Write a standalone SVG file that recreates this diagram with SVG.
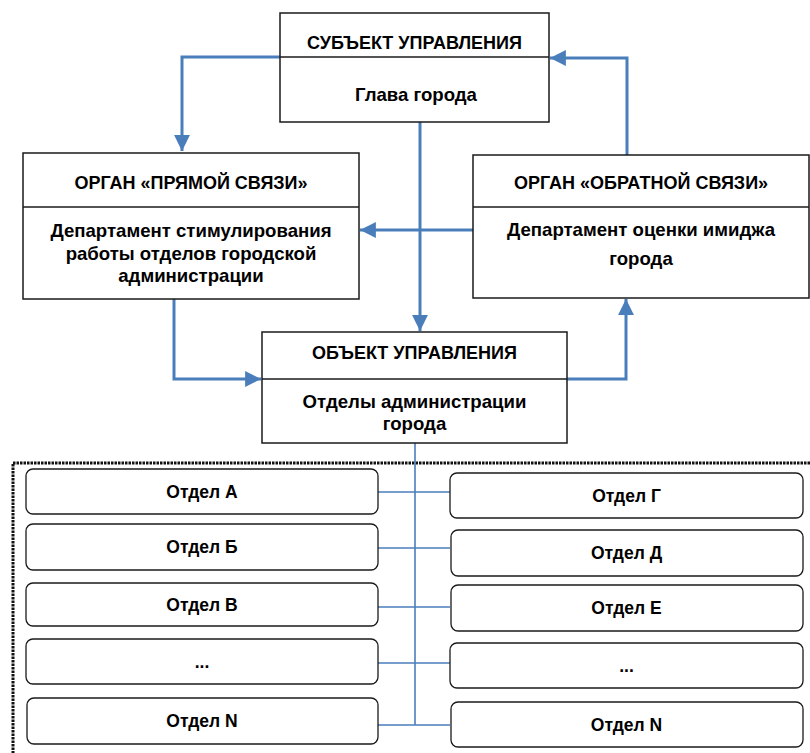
<svg xmlns="http://www.w3.org/2000/svg" width="810" height="753" viewBox="0 0 810 753">
<style>
.box{fill:#fff;stroke:#1a1a1a;stroke-width:1.5}
.sbox{fill:#fff;stroke:#1a1a1a;stroke-width:1.3}
.div{stroke:#1a1a1a;stroke-width:1.5}
.t{font-family:"Liberation Sans",Arial,sans-serif;font-weight:bold;font-size:18px;fill:#000;text-anchor:middle}
.b{font-family:"Liberation Sans",Arial,sans-serif;font-weight:bold;font-size:18.6px;fill:#000;text-anchor:middle}
.s{font-family:"Liberation Sans",Arial,sans-serif;font-weight:bold;font-size:17.5px;fill:#000;text-anchor:middle}
.c{fill:none;stroke:#4a7ebb;stroke-width:3}
.thin{fill:none;stroke:#4a7ebb;stroke-width:1.6}
</style>
<defs>
<marker id="ah" viewBox="0 0 10 10" refX="10" refY="5" markerWidth="5.3" markerHeight="5.3" markerUnits="strokeWidth" orient="auto">
<path d="M0,0 L10,5 L0,10 z" fill="#4a7ebb"/>
</marker>
</defs>
<rect x="13" y="463" width="810" height="310" fill="none" stroke="#111" stroke-width="3" stroke-dasharray="2.5,1"/>
<g id="connectors">
<path class="c" d="M280,57 H182 V151" marker-end="url(#ah)"/>
<path class="c" d="M627,155 V58 H550" marker-end="url(#ah)"/>
<path class="c" d="M420,122 V331" marker-end="url(#ah)"/>
<path class="c" d="M473,230 H360" marker-end="url(#ah)"/>
<path class="c" d="M174,299 V379 H261" marker-end="url(#ah)"/>
<path class="c" d="M567,379 H626 V299" marker-end="url(#ah)"/>
<path class="thin" d="M415,443 V725"/>
<path class="thin" d="M378,492 H450 M378,548 H450 M378,607 H450 M378,663 H450 M378,725 H450"/>
</g>
<g id="subject">
<rect class="box" x="280" y="13" width="269" height="109"/>
<line class="div" x1="280" y1="57" x2="549" y2="57"/>
<text class="t" x="414.5" y="49">СУБЪЕКТ УПРАВЛЕНИЯ</text>
<text class="b" x="416" y="101">Глава города</text>
</g>
<g id="direct">
<rect class="box" x="23" y="153" width="336" height="146"/>
<line class="div" x1="23" y1="207" x2="359" y2="207"/>
<text class="t" x="191" y="189">ОРГАН «ПРЯМОЙ СВЯЗИ»</text>
<text class="b" x="191" y="237">Департамент стимулирования</text>
<text class="b" x="191" y="259.5">работы отделов городской</text>
<text class="b" x="191" y="282">администрации</text>
</g>
<g id="feedback">
<rect class="box" x="473" y="155" width="336" height="143"/>
<line class="div" x1="473" y1="207" x2="809" y2="207"/>
<text class="t" x="641" y="189">ОРГАН «ОБРАТНОЙ СВЯЗИ»</text>
<text class="b" x="641" y="236">Департамент оценки имиджа</text>
<text class="b" x="641" y="265">города</text>
</g>
<g id="object">
<rect class="box" x="262" y="332" width="305" height="111"/>
<line class="div" x1="262" y1="379" x2="567" y2="379"/>
<text class="t" x="414.5" y="359">ОБЪЕКТ УПРАВЛЕНИЯ</text>
<text class="b" x="414.5" y="408">Отделы администрации</text>
<text class="b" x="414.5" y="430">города</text>
</g>
<g id="dept-a"><rect class="sbox" x="26" y="469" width="352" height="45" rx="7"/><text class="s" x="202" y="498">Отдел А</text></g>
<g id="dept-b"><rect class="sbox" x="26" y="524" width="352" height="46" rx="7"/><text class="s" x="202" y="553">Отдел Б</text></g>
<g id="dept-v"><rect class="sbox" x="26" y="583" width="352" height="43" rx="7"/><text class="s" x="202" y="610.5">Отдел В</text></g>
<g id="dept-l-dots"><rect class="sbox" x="26" y="639" width="352" height="45" rx="7"/><text class="s" x="202" y="668">...</text></g>
<g id="dept-l-n"><rect class="sbox" x="27" y="698" width="351" height="46" rx="7"/><text class="s" x="202" y="727">Отдел N</text></g>
<g id="dept-g"><rect class="sbox" x="450" y="473" width="353" height="45" rx="7"/><text class="s" x="626.5" y="502">Отдел Г</text></g>
<g id="dept-d"><rect class="sbox" x="451" y="530" width="352" height="46" rx="7"/><text class="s" x="626.5" y="559">Отдел Д</text></g>
<g id="dept-e"><rect class="sbox" x="451" y="585" width="352" height="46" rx="7"/><text class="s" x="626.5" y="614">Отдел Е</text></g>
<g id="dept-r-dots"><rect class="sbox" x="450" y="643" width="353" height="45" rx="7"/><text class="s" x="626.5" y="672">...</text></g>
<g id="dept-r-n"><rect class="sbox" x="451" y="702" width="352" height="45" rx="7"/><text class="s" x="626.5" y="731">Отдел N</text></g>
</svg>
